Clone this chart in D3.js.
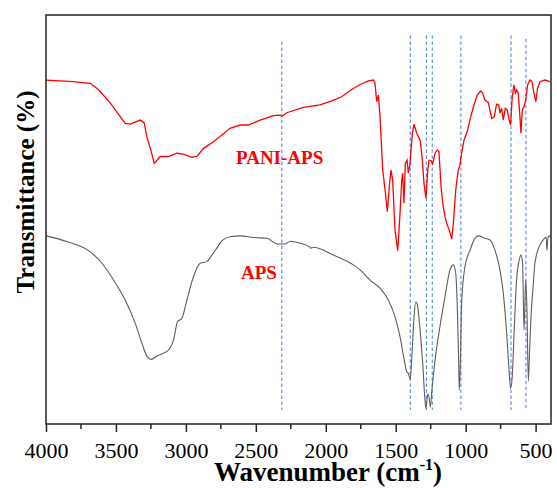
<!DOCTYPE html>
<html>
<head>
<meta charset="utf-8">
<script src="https://cdn.jsdelivr.net/npm/d3@7"></script>
<style>
  body { margin: 0; background: #fff; }
  svg text { font-family: "Liberation Serif", "DejaVu Serif", serif; }
</style>
</head>
<body>
<svg id="chart" width="557" height="488"></svg>
<script>
// PANI-APS spectrum (wavenumber, transmittance a.u.)
const paniWave = [4000,3805,3684,3624,3541,3434,3398,3326,3298,3279,3255,3226,3184,3124,3064,3017,2958,2922,2874,2803,2684,2612,2553,2469,2374,2326,2314,2279,2160,2041,1957,1886,1814,1755,1696,1660,1648,1636,1624,1612,1593,1576,1560,1546,1534,1522,1505,1486,1469,1457,1450,1441,1431,1419,1410,1398,1381,1369,1350,1326,1312,1298,1284,1271,1262,1248,1236,1219,1203,1191,1176,1164,1148,1136,1117,1100,1088,1071,1053,1041,1029,1012,989,964,941,917,893,879,862,838,814,796,779,764,755,743,731,717,703,689,679,667,655,645,636,624,612,605,595,583,571,557,541,526,512,498,486,469,434,398];
const paniT = [84.1,83.7,83.3,81.7,78.5,73.5,73.3,74.3,73.6,70.2,67.5,63.7,65.4,65.4,66.2,66.0,65.2,65.4,67.4,69.0,72.3,73.1,73.1,74.3,75.4,75.5,75.2,76.1,77.4,78.0,79.0,80.0,81.8,83.0,83.9,84.1,83.3,78.8,80.4,75.1,62.1,57.2,51.9,58.0,62.1,59.7,47.4,42.4,51.6,59.7,61.3,54.0,63.7,64.5,61.3,63.7,71.1,73.3,71.1,69.4,65.4,58.9,55.2,62.1,64.5,64.4,63.6,66.2,67.0,66.6,58.0,54.0,50.7,49.1,47.4,45.2,49.1,57.2,62.1,63.3,66.2,69.4,71.5,75.1,78.0,80.4,81.4,80.9,79.2,78.6,74.7,75.1,78.2,78.0,76.0,77.2,74.3,77.2,76.8,74.3,73.1,80.0,82.9,80.9,81.7,80.9,75.1,71.1,76.8,77.6,79.2,82.9,84.1,83.7,80.9,78.8,82.1,83.7,84.1,83.7];

// APS spectrum
const apsWave = [4000,3850,3684,3600,3517,3434,3362,3314,3279,3248,3207,3160,3124,3088,3060,3029,2993,2946,2898,2850,2814,2779,2743,2684,2612,2517,2421,2346,2291,2255,2184,2117,2107,2089,1946,1803,1755,1707,1684,1612,1553,1505,1469,1439,1421,1410,1396,1386,1369,1357,1345,1326,1307,1291,1284,1271,1262,1253,1239,1219,1184,1148,1112,1088,1071,1060,1050,1046,1038,1029,1005,969,934,910,862,826,791,755,731,707,690,679,667,653,636,617,605,593,583,571,562,552,543,530,519,505,469,446,434,425,419,412,403,390];
const apsT = [46.0,44.6,42.1,39.3,35.2,30.3,24.6,19.7,16.6,15.8,16.6,17.3,18.1,20.5,25.0,25.8,30.3,36.0,39.3,39.7,41.3,43.0,44.8,45.8,46.0,45.6,45.4,44.0,44.0,44.7,44.2,43.3,43.0,43.2,41.3,38.9,37.7,36.0,35.2,33.2,30.3,26.2,21.3,15.6,12.8,12.4,10.9,15.6,26.2,29.9,29.1,23.0,14.8,5.9,3.8,7.3,6.7,4.2,9.1,15.6,23.8,31.1,37.7,38.9,36.8,28.7,15.6,8.3,14.8,29.5,38.5,42.5,45.4,46.0,45.4,45.0,42.5,37.7,32.0,22.2,13.2,8.7,11.6,23.0,35.2,40.1,41.3,39.3,23.0,35.2,28.0,10.5,18.0,28.0,33.0,39.3,43.8,45.0,45.5,45.7,42.5,45.5,46.0,45.7];

// dashed guide lines
const markWave = [2314, 1396, 1281, 1239, 1034, 676, 569];
const markTop = [93.5, 95, 95, 95, 95, 95, 94.2];
const markBottom = 3.4;

const xTicks = [4000, 3500, 3000, 2500, 2000, 1500, 1000, 500];
const xMinor = [3750, 3250, 2750, 2250, 1750, 1250, 750];

const labels = [
    {text: "PANI-APS", w: 2330, t: 63.5},
    {text: "APS", w: 2478, t: 35.5}
];

const serif = "'Liberation Serif', 'DejaVu Serif', serif";
const svg = d3.select("#chart");
const plotLeft = 46, plotRight = 551, plotTop = 15, plotBottom = 424;

let x = d3.scaleLinear().domain([4000, 390]).range([plotLeft, plotRight]);
let y = d3.scaleLinear().domain([0, 100]).range([plotBottom, plotTop]);

let zip = (ws, ts) => ws.map((w, i) => ({w: w, t: ts[i]}));

// guide lines
svg.append("g").selectAll("line")
    .data(markWave)
    .enter().append("line")
    .attr("x1", d => x(d)).attr("x2", d => x(d))
    .attr("y1", (d, i) => y(markTop[i]))
    .attr("y2", y(markBottom))
    .attr("stroke", "#4a7bd0")
    .attr("stroke-width", 1)
    .attr("stroke-dasharray", "3.5,2.5");

let line = d3.line()
    .x(d => x(d.w))
    .y(d => y(d.t));

svg.append("path")
    .datum(zip(apsWave, apsT))
    .attr("d", line.curve(d3.curveMonotoneX))
    .attr("fill", "none")
    .attr("stroke", "#5e5e5e")
    .attr("stroke-width", 1.1);

svg.append("path")
    .datum(zip(paniWave, paniT))
    .attr("d", line.curve(d3.curveLinear))
    .attr("fill", "none")
    .attr("stroke", "#ff0000")
    .attr("stroke-width", 1.3);

// frame
svg.append("rect")
    .attr("x", plotLeft).attr("y", plotTop)
    .attr("width", plotRight - plotLeft).attr("height", plotBottom - plotTop)
    .attr("fill", "none")
    .attr("stroke", "#222")
    .attr("stroke-width", 1.5);

// x axis
let xAxis = svg.append("g")
    .attr("transform", "translate(0," + plotBottom + ")")
    .call(d3.axisBottom(x).tickValues(xTicks).tickSize(8).tickPadding(10).tickFormat(d3.format("d")));
xAxis.attr("font-family", serif).attr("font-size", 22);
xAxis.select(".domain").remove();
xAxis.selectAll("line").attr("stroke", "#222").attr("stroke-width", 1.5);
xAxis.selectAll("text")
    .attr("fill", "#000")
    .style("font-family", serif)
    .style("font-size", "22px");

svg.append("g").selectAll("line")
    .data(xMinor)
    .enter().append("line")
    .attr("x1", d => x(d)).attr("x2", d => x(d))
    .attr("y1", plotBottom).attr("y2", plotBottom + 5)
    .attr("stroke", "#222")
    .attr("stroke-width", 1.5);

// axis titles
let xt = svg.append("text")
    .attr("x", 328).attr("y", 481)
    .attr("text-anchor", "middle")
    .attr("font-size", "27px")
    .attr("font-weight", "bold");
xt.append("tspan").text("Wavenumber (cm");
xt.append("tspan").attr("font-size", "16px").attr("dy", -11).text("-1");
xt.append("tspan").attr("dy", 11).text(")");

svg.append("text")
    .attr("transform", "translate(34,192) rotate(-90)")
    .attr("text-anchor", "middle")
    .attr("font-size", "25px")
    .attr("font-weight", "bold")
    .text("Transmittance (%)");

// series labels
svg.append("g").selectAll("text")
    .data(labels)
    .enter().append("text")
    .attr("x", d => x(d.w))
    .attr("y", d => y(d.t))
    .attr("text-anchor", "middle")
    .attr("font-size", "19px")
    .attr("font-weight", "bold")
    .attr("fill", "#ff0000")
    .text(d => d.text);
</script>
</body>
</html>
